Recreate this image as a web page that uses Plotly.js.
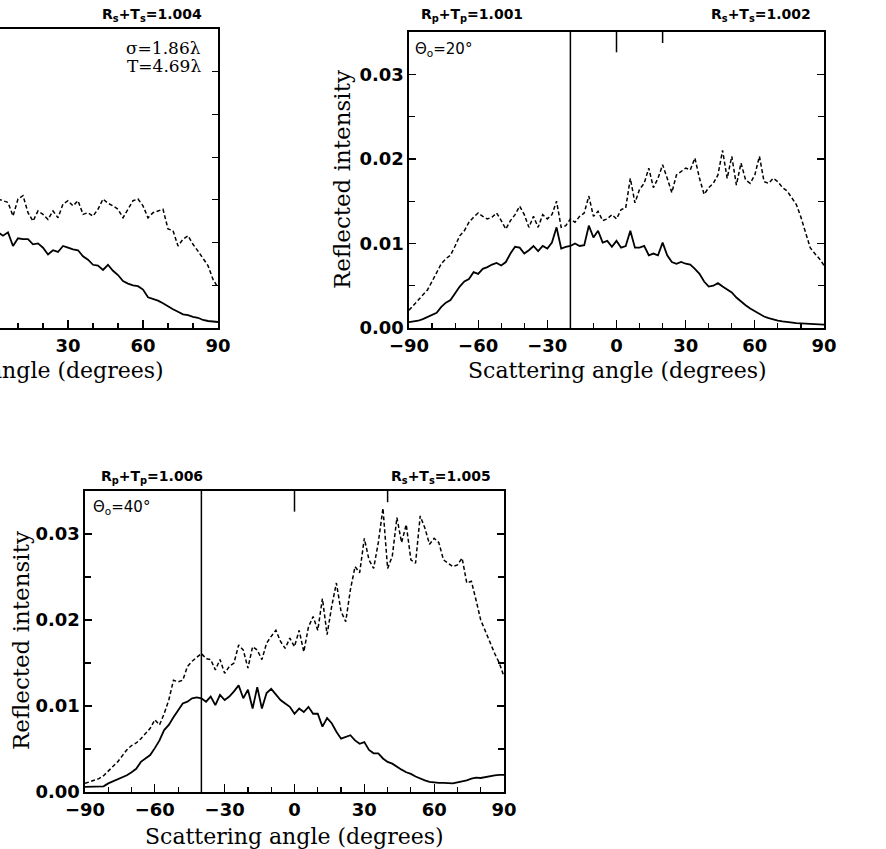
<!DOCTYPE html>
<html>
<head>
<meta charset="utf-8">
<script src="https://cdn.plot.ly/plotly-3.0.1.min.js"></script>
<style>html,body{margin:0;padding:0;background:#fff;}#chart{width:886px;height:849px;}</style>
</head>
<body>
<div id="chart"></div>
<script>
// ---------------- DATA ----------------
// Scattering angles (degrees)
const angles = [-90,-88,-86,-84,-82,-80,-78,-76,-74,-72,-70,-68,-66,-64,-62,-60,-58,-56,-54,-52,
  -50,-48,-46,-44,-42,-40,-38,-36,-34,-32,-30,-28,-26,-24,-22,-20,-18,-16,-14,-12,
  -10,-8,-6,-4,-2,0,2,4,6,8,10,12,14,16,18,20,22,24,26,28,
  30,32,34,36,38,40,42,44,46,48,50,52,54,56,58,60,62,64,66,68,
  70,72,74,76,78,80,82,84,86,88,90];
// Top-left panel: only the right part of it is visible
const anglesA = [2,4,6,8,10,12,14,16,18,20,22,24,26,28,30,32,34,36,38,40,
  42,44,46,48,50,52,54,56,58,60,62,64,66,68,70,72,74,76,78,80,82,84,86,88,90];

// Panel A (sigma=1.86 lambda, T=4.69 lambda)
const solidA = [0.0112,0.0108,0.0112,0.0096,0.0105,0.0104,0.0104,0.0098,0.0099,0.0094,
  0.0086,0.0091,0.0089,0.0096,0.0094,0.0092,0.0091,0.0084,0.0080,0.0074,
  0.0073,0.0068,0.0074,0.0067,0.0062,0.0055,0.0052,0.0050,0.0049,0.0045,
  0.0036,0.0034,0.0032,0.0029,0.0025,0.0022,0.0019,0.0016,0.0015,0.0013,
  0.0012,0.00094,0.00082,0.00074,0.00070];
const dashedA = [0.0151,0.0149,0.0147,0.0131,0.0151,0.0155,0.0135,0.0125,0.0137,0.0133,
  0.0127,0.0137,0.0129,0.0145,0.0149,0.0143,0.0149,0.0133,0.0135,0.0131,
  0.0139,0.0151,0.0146,0.0143,0.0139,0.0129,0.0139,0.0149,0.0151,0.0143,
  0.0129,0.0135,0.0137,0.0139,0.0116,0.0114,0.0096,0.0104,0.0108,0.0098,
  0.0090,0.0082,0.0073,0.0057,0.0047];

// Panel B (theta0 = 20 deg)
const solidB = [0.00070,0.00074,0.00086,0.00105,0.0013,0.0015,0.0018,0.0025,0.0030,0.0033,
  0.0041,0.0049,0.0055,0.0058,0.0066,0.0064,0.0070,0.0072,0.0075,0.0077,
  0.0074,0.0078,0.0088,0.0096,0.0095,0.0088,0.0092,0.0097,0.0091,0.0097,
  0.0094,0.0101,0.0119,0.0094,0.0096,0.0097,0.0100,0.0097,0.0098,0.0121,
  0.0107,0.0115,0.0101,0.0103,0.0096,0.0103,0.0095,0.0097,0.0115,0.0095,
  0.0095,0.0097,0.0086,0.0088,0.0086,0.0101,0.0086,0.0078,0.0076,0.0078,
  0.0076,0.0075,0.0070,0.0064,0.0055,0.0049,0.0050,0.0053,0.0049,0.0045,
  0.0042,0.0036,0.0031,0.0027,0.0023,0.0020,0.00175,0.00136,0.00117,0.00097,
  0.00086,0.00078,0.00070,0.00066,0.00058,0.00055,0.00050,0.00047,0.00043,0.00039,0.00039];
const dashedB = [0.0021,0.0027,0.0033,0.0039,0.0045,0.0055,0.0066,0.0076,0.0082,0.0086,
  0.0097,0.0109,0.0115,0.0125,0.0131,0.0136,0.0132,0.0129,0.0131,0.0136,
  0.0127,0.0117,0.0127,0.0134,0.0144,0.0134,0.0119,0.0132,0.0119,0.0134,
  0.0129,0.0134,0.0150,0.0119,0.0121,0.0129,0.0125,0.0132,0.0136,0.0156,
  0.0132,0.0138,0.0127,0.0129,0.0134,0.0129,0.0140,0.0142,0.0177,0.0148,
  0.0164,0.0171,0.0189,0.0166,0.0177,0.0193,0.0177,0.0160,0.0181,0.0185,
  0.0189,0.0187,0.0201,0.0177,0.0158,0.0166,0.0171,0.0181,0.0210,0.0177,
  0.0203,0.0169,0.0195,0.0175,0.0171,0.0181,0.0203,0.0173,0.0171,0.0177,
  0.0173,0.0166,0.0162,0.0154,0.0146,0.0131,0.0113,0.0095,0.0088,0.0082,0.0074];

// Panel C (theta0 = 40 deg)
const solidC = [0.0006,0.0006,0.0006,0.0006,0.00066,0.0010,0.00124,0.0015,0.00175,0.00195,
  0.0023,0.0027,0.0035,0.0039,0.0043,0.0051,0.0060,0.0072,0.0078,0.0087,
  0.0095,0.0103,0.0105,0.0109,0.0110,0.0109,0.0105,0.0111,0.0101,0.0113,
  0.0107,0.0111,0.0117,0.0124,0.0109,0.0119,0.0097,0.0122,0.0097,0.0115,
  0.0120,0.0113,0.0107,0.0103,0.0099,0.0091,0.0097,0.0093,0.0099,0.0091,
  0.0091,0.0076,0.0086,0.0080,0.0070,0.0062,0.0064,0.0066,0.0060,0.0056,
  0.0058,0.0049,0.0045,0.0045,0.0039,0.0035,0.0033,0.0029,0.0026,0.0023,
  0.0021,0.0018,0.00155,0.00136,0.00117,0.00109,0.00105,0.00105,0.00105,0.0010,
  0.00113,0.00124,0.00136,0.00155,0.00167,0.00163,0.00175,0.00187,0.00194,0.0020,0.0020];
const dashedC = [0.0010,0.0012,0.0014,0.00155,0.0019,0.0024,0.0029,0.0035,0.0042,0.0049,
  0.0054,0.0057,0.0062,0.0068,0.0074,0.0084,0.0078,0.0091,0.0107,0.0130,
  0.0128,0.0130,0.0146,0.0152,0.0157,0.0161,0.0155,0.0154,0.0142,0.0154,
  0.0138,0.0146,0.0150,0.0171,0.0165,0.0144,0.0169,0.0165,0.0154,0.0173,
  0.0181,0.0188,0.0175,0.0167,0.0179,0.0169,0.0188,0.0163,0.0192,0.0204,
  0.0188,0.0225,0.0183,0.0216,0.0243,0.0210,0.0198,0.0235,0.0262,0.0255,
  0.0295,0.0270,0.0260,0.0290,0.0330,0.0260,0.0274,0.0319,0.0290,0.0311,
  0.0270,0.0266,0.0321,0.0307,0.0288,0.0295,0.0290,0.0270,0.0266,0.0262,
  0.0264,0.0272,0.0243,0.0245,0.0223,0.0200,0.0187,0.0173,0.0161,0.0150,0.0134];

// Incidence angles and energy-conservation labels
const theta0 = [20, 40];                       // panels B, C
const sumLabelsA = ['1.004'];
const sumP = ['1.001', '1.006'];
const sumS = ['1.002', '1.005'];
const paramLabels = ['\u03c3=1.86\u03bb', 'T=4.69\u03bb'];
const xTickVals = [-90, -60, -30, 0, 30, 60, 90];

// ---------------- LAYOUT HELPERS ----------------
const W = 886, H = 849;
const px = v => v / W;
const py = v => 1 - v / H;
const TICKFONT = {family: 'DejaVu Sans, sans-serif', size: 18, weight: 'bold', color: '#000'};
const XTITLEFONT = {family: 'DejaVu Serif, serif', size: 22, color: '#000'};
const YTITLEFONT = {family: 'DejaVu Serif, serif', size: 23, color: '#000'};
const LABFONT = {family: 'DejaVu Sans, sans-serif', size: 14, weight: 'bold', color: '#000'};
const THFONT = {family: 'DejaVu Sans, sans-serif', size: 15, color: '#000'};
const SERIFLAB = {family: 'DejaVu Serif, serif', size: 17, color: '#000'};

function xAxis(dom, range, anchor, labels) {
  return {
    domain: dom, range: range, anchor: anchor, tickmode: 'array', tickvals: xTickVals,
    ticktext: xTickVals.map(v => v < 0 ? '\u2212' + Math.abs(v) : String(v)), showticklabels: labels,
    ticks: 'inside', ticklen: 8, tickwidth: 1.3, tickcolor: '#000', ticklabelstandoff: 1,
    minor: {dtick: 10, tick0: 0, ticks: 'inside', ticklen: 5, tickwidth: 1.2, tickcolor: '#000', showgrid: false},
    showline: true, linewidth: 1.6, linecolor: '#000', mirror: true,
    showgrid: false, zeroline: false, tickfont: TICKFONT, fixedrange: true
  };
}
function yAxis(dom, anchor) {
  return {
    domain: dom, range: [0, 0.035], anchor: anchor, dtick: 0.01, tick0: 0, tickformat: '.2f',
    ticks: 'inside', ticklen: 7, tickwidth: 1.3, tickcolor: '#000',
    minor: {dtick: 0.005, tick0: 0, ticks: 'inside', ticklen: 6, tickwidth: 1.2, tickcolor: '#000', showgrid: false},
    showline: true, linewidth: 1.6, linecolor: '#000', mirror: 'ticks',
    showgrid: false, zeroline: false, tickfont: TICKFONT, fixedrange: true
  };
}

const solidLine = {color: '#000', width: 1.8};
const dashLine = {color: '#000', width: 1.5, dash: '4px,2.5px'};

const traces = [
  {x: anglesA, y: solidA, xaxis: 'x', yaxis: 'y', mode: 'lines', line: solidLine, hoverinfo: 'skip'},
  {x: anglesA, y: dashedA, xaxis: 'x', yaxis: 'y', mode: 'lines', line: dashLine, hoverinfo: 'skip'},
  {x: angles, y: solidB, xaxis: 'x2', yaxis: 'y2', mode: 'lines', line: solidLine, hoverinfo: 'skip'},
  {x: angles, y: dashedB, xaxis: 'x2', yaxis: 'y2', mode: 'lines', line: dashLine, hoverinfo: 'skip'},
  {x: angles, y: solidC, xaxis: 'x3', yaxis: 'y3', mode: 'lines', line: solidLine, hoverinfo: 'skip'},
  {x: angles, y: dashedC, xaxis: 'x3', yaxis: 'y3', mode: 'lines', line: dashLine, hoverinfo: 'skip'}
];

// Panel A axes
const xA = xAxis([0, px(218)], [2.8, 90], 'y', true);
const yA = {
  domain: [py(328), py(29)], range: [0, 0.035], anchor: 'x', side: 'right', dtick: 0.005, tick0: 0,
  ticks: 'inside', ticklen: 6, tickwidth: 1.2, tickcolor: '#000', showticklabels: false,
  showline: true, linewidth: 1.6, linecolor: '#000', showgrid: false, zeroline: false, fixedrange: true
};

// Shapes: backscatter line at -theta0, normal tick at 0, specular tick at +theta0
const shapes = [];
['2', '3'].forEach((k, i) => {
  const t = theta0[i];
  const xr = 'x' + k, yr = 'y' + k;
  shapes.push({type: 'line', xref: xr, yref: yr, x0: -t, x1: -t, y0: 0, y1: 0.035, line: {color: '#000', width: 1.5}});
  shapes.push({type: 'line', xref: xr, yref: yr, x0: 0, x1: 0, y0: 0.035, y1: 0.0326, line: {color: '#000', width: 1.5}});
  shapes.push({type: 'line', xref: xr, yref: yr, x0: t, x1: t, y0: 0.035, y1: 0.0337, line: {color: '#000', width: 1.5}});
});

function ann(text, x, y, xanchor, font, extra) {
  return Object.assign({text: text, xref: 'paper', yref: 'paper', x: px(x), y: py(y),
    xanchor: xanchor, yanchor: 'middle', showarrow: false, font: font}, extra || {});
}
const rt = (a, b) => 'R<sub>' + a + '</sub>+T<sub>' + a + '</sub>=' + b;

const annotations = [
  ann(rt('s', sumLabelsA[0]), 204, 15, 'right', LABFONT),
  ann(paramLabels[0], 203, 48, 'right', SERIFLAB),
  ann(paramLabels[1], 203, 66, 'right', SERIFLAB),
  ann(rt('p', sumP[0]), 419, 15, 'left', LABFONT),
  ann(rt('s', sumS[0]), 813, 15, 'right', LABFONT),
  ann('\u0398<sub>o</sub>=' + theta0[0] + '\u00b0', 413, 50, 'left', THFONT),
  ann(rt('p', sumP[1]), 99, 477, 'left', LABFONT),
  ann(rt('s', sumS[1]), 493, 477, 'right', LABFONT),
  ann('\u0398<sub>o</sub>=' + theta0[1] + '\u00b0', 91, 507, 'left', THFONT),
  ann('Reflected intensity', 342, 180, 'center', YTITLEFONT, {textangle: -90}),
  ann('Reflected intensity', 21, 641, 'center', YTITLEFONT, {textangle: -90}),
  ann('Scattering angle (degrees)', 617, 370, 'center', XTITLEFONT),
  ann('Scattering angle (degrees)', 294, 836, 'center', XTITLEFONT),
  ann('Scattering angle (degrees)', 166, 370, 'right', XTITLEFONT)
];

const layout = {
  width: W, height: H, margin: {l: 0, r: 0, t: 0, b: 0, pad: 0},
  paper_bgcolor: '#fff', plot_bgcolor: '#fff', showlegend: false,
  xaxis: xA, yaxis: yA,
  xaxis2: xAxis([px(409), px(824)], [-90, 90], 'y2', true),
  yaxis2: yAxis([py(328), py(32)], 'x2'),
  xaxis3: xAxis([px(85), px(504)], [-90, 90], 'y3', true),
  yaxis3: yAxis([py(792), py(491)], 'x3'),
  shapes: shapes, annotations: annotations
};

Plotly.newPlot('chart', traces, layout, {staticPlot: true, displayModeBar: false});
</script>
</body>
</html>
